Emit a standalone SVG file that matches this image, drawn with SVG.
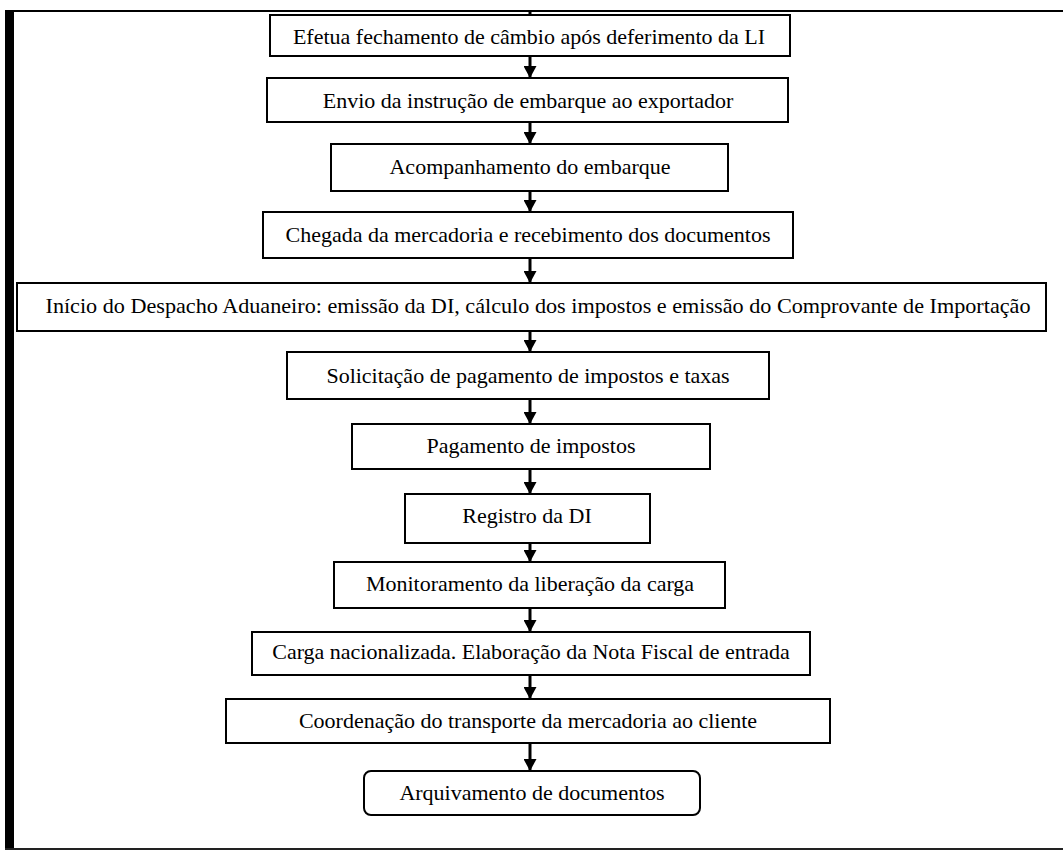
<svg xmlns="http://www.w3.org/2000/svg" width="1063" height="851" viewBox="0 0 1063 851">
<style>
.box{fill:#fff;stroke:#000;stroke-width:2}
.t{font-family:"Liberation Serif","Times New Roman",serif;font-size:22px;fill:#000;text-anchor:middle}
.c{stroke:#000;stroke-width:3;fill:none}
</style>
<defs>
<marker id="ah" markerUnits="userSpaceOnUse" markerWidth="12" markerHeight="13" refX="11" refY="6.5" orient="auto" viewBox="0 0 12 13">
<path d="M0,0 L12,6.5 L0,13 Z" fill="#000"/>
</marker>
</defs>
<rect x="0" y="0" width="1063" height="851" fill="#fff"/>
<g id="frame">
<rect x="5" y="11" width="9" height="838" fill="#000"/>
<line x1="5" y1="11" x2="1063" y2="11" stroke="#000" stroke-width="2"/>
<line x1="5" y1="849" x2="1063" y2="849" stroke="#222" stroke-width="2"/>
</g>
<g id="connectors">
<line class="c" x1="530" y1="11" x2="530" y2="15"/>
<line class="c" x1="530" y1="56" x2="530" y2="77" marker-end="url(#ah)"/>
<line class="c" x1="530" y1="122" x2="530" y2="143" marker-end="url(#ah)"/>
<line class="c" x1="530" y1="191" x2="530" y2="211" marker-end="url(#ah)"/>
<line class="c" x1="530" y1="258" x2="530" y2="282" marker-end="url(#ah)"/>
<line class="c" x1="530" y1="331" x2="530" y2="351" marker-end="url(#ah)"/>
<line class="c" x1="530" y1="399" x2="530" y2="423" marker-end="url(#ah)"/>
<line class="c" x1="530" y1="469" x2="530" y2="493" marker-end="url(#ah)"/>
<line class="c" x1="530" y1="543" x2="530" y2="561" marker-end="url(#ah)"/>
<line class="c" x1="530" y1="608" x2="530" y2="631" marker-end="url(#ah)"/>
<line class="c" x1="530" y1="675" x2="530" y2="698" marker-end="url(#ah)"/>
<line class="c" x1="530" y1="743" x2="530" y2="770" marker-end="url(#ah)"/>
</g>
<g id="n1"><rect class="box" x="270" y="15" width="520" height="41"/><text class="t" x="529" y="44">Efetua fechamento de câmbio após deferimento da LI</text></g>
<g id="n2"><rect class="box" x="267" y="78" width="521" height="44"/><text class="t" x="528" y="108">Envio da instrução de embarque ao exportador</text></g>
<g id="n3"><rect class="box" x="331" y="144" width="397" height="47"/><text class="t" x="530" y="174">Acompanhamento do embarque</text></g>
<g id="n4"><rect class="box" x="263" y="212" width="530" height="46"/><text class="t" x="528" y="242">Chegada da mercadoria e recebimento dos documentos</text></g>
<g id="n5"><rect class="box" x="17" y="283" width="1029" height="48"/><text class="t" x="538" y="313" textLength="985" lengthAdjust="spacingAndGlyphs">Início do Despacho Aduaneiro: emissão da DI, cálculo dos impostos e emissão do Comprovante de Importação</text></g>
<g id="n6"><rect class="box" x="287" y="352" width="482" height="47"/><text class="t" x="528" y="383">Solicitação de pagamento de impostos e taxas</text></g>
<g id="n7"><rect class="box" x="352" y="424" width="358" height="45"/><text class="t" x="531" y="453">Pagamento de impostos</text></g>
<g id="n8"><rect class="box" x="405" y="494" width="245" height="49"/><text class="t" x="527" y="523">Registro da DI</text></g>
<g id="n9"><rect class="box" x="334" y="562" width="391" height="46"/><text class="t" x="530" y="591">Monitoramento da liberação da carga</text></g>
<g id="n10"><rect class="box" x="252" y="632" width="558" height="43"/><text class="t" x="531" y="659">Carga nacionalizada. Elaboração da Nota Fiscal de entrada</text></g>
<g id="n11"><rect class="box" x="226" y="699" width="604" height="44"/><text class="t" x="528" y="728">Coordenação do transporte da mercadoria ao cliente</text></g>
<g id="n12"><rect class="box" x="364" y="771" width="336" height="44" rx="7" ry="7"/><text class="t" x="532" y="800">Arquivamento de documentos</text></g>
</svg>
